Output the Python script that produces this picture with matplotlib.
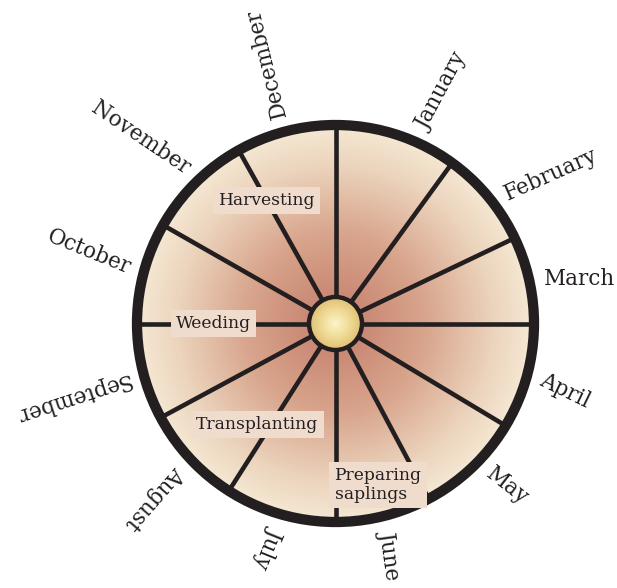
import numpy as np
import matplotlib
matplotlib.use("Agg")
import matplotlib.pyplot as plt
from matplotlib.patches import Circle
from matplotlib.colors import LinearSegmentedColormap

# months go clockwise, each one sits between two spokes
months = ['January', 'February', 'March', 'April', 'May', 'June',
          'July', 'August', 'September', 'October', 'November', 'December']
spoke_deg = [90, 54, 25.5, 0, -31, -62, -90, -122.5, -151.7, -180, -209.7, -240.8]
label_deg = [66, 37, 12, -15, -44, -76, -106, -137, -165, 165, 134, 105]
label_rot = [62, 24, 0, -26, -38, -82, -112, -131, -162, 158, 146, 104]
inward = ['October', 'November']

activities = ['Harvesting', 'Weeding', 'Transplanting', 'Preparing\nsaplings']
activity_xy = [(266.5, 200.5), (213.5, 323.5), (257.5, 424.5), (378, 485)]

cx, cy = 335.5, 323.5
R = 198.5
dark = '#231f20'

fig = plt.figure(figsize=(6.17, 5.88), dpi=100)
ax = fig.add_axes([0, 0, 1, 1])
ax.set_xlim(0, 617)
ax.set_ylim(588, 0)
ax.axis('off')

# radial gradient disk
cmap = LinearSegmentedColormap.from_list('wheel', [(0, '#c47d6a'), (0.45, '#d8a48c'),
                                                   (0.8, '#ecd4bd'), (1, '#f5e9d4')])
yy, xx = np.mgrid[0:588, 0:617]
rr = np.hypot(xx + 0.5 - cx, yy + 0.5 - cy) / R
img = ax.imshow(np.clip(rr, 0, 1), cmap=cmap, vmin=0, vmax=1,
                extent=(0, 617, 588, 0), zorder=1, interpolation='bilinear')
img.set_clip_path(Circle((cx, cy), R, transform=ax.transData))

# spokes
for a in spoke_deg:
    t = np.deg2rad(a)
    ax.plot([cx, cx + R * np.cos(t)], [cy, cy - R * np.sin(t)],
            color=dark, lw=3.3, zorder=2, solid_capstyle='butt')

ax.add_patch(Circle((cx, cy), R, fill=False, ec=dark, lw=7.4, zorder=3))

# hub
hub_r = 26.5
hub_cmap = LinearSegmentedColormap.from_list('hub', ['#fbf5c8', '#f0dc98', '#e0bf72'])
himg = ax.imshow(np.clip(np.hypot(xx + 0.5 - cx, yy + 0.5 - cy) / hub_r, 0, 1),
                 cmap=hub_cmap, vmin=0, vmax=1, extent=(0, 617, 588, 0),
                 zorder=4, interpolation='bilinear')
himg.set_clip_path(Circle((cx, cy), hub_r, transform=ax.transData))
ax.add_patch(Circle((cx, cy), hub_r, fill=False, ec=dark, lw=3.2, zorder=5))

# month labels
for m, a, rot in zip(months, label_deg, label_rot):
    t = np.deg2rad(a)
    x, y = cx + 213 * np.cos(t), cy - 213 * np.sin(t)
    if m in inward:
        ax.text(x, y, m, rotation=rot - 180, ha='right', va='center', rotation_mode='anchor',
                family='DejaVu Serif', fontsize=15.5, color=dark, zorder=6)
    else:
        ax.text(x, y, m, rotation=rot, ha='left', va='center', rotation_mode='anchor',
                family='DejaVu Serif', fontsize=15.5, color=dark, zorder=6)

# activity boxes
for s, (x, y) in zip(activities, activity_xy):
    ax.text(x, y, s, ha='center', va='center', multialignment='left',
            family='DejaVu Serif', fontsize=12.3, color=dark, zorder=7, linespacing=1.2,
            bbox=dict(boxstyle='square,pad=0.3', fc='#efdccd', ec='none'))

fig.savefig('out.png', dpi=100)
